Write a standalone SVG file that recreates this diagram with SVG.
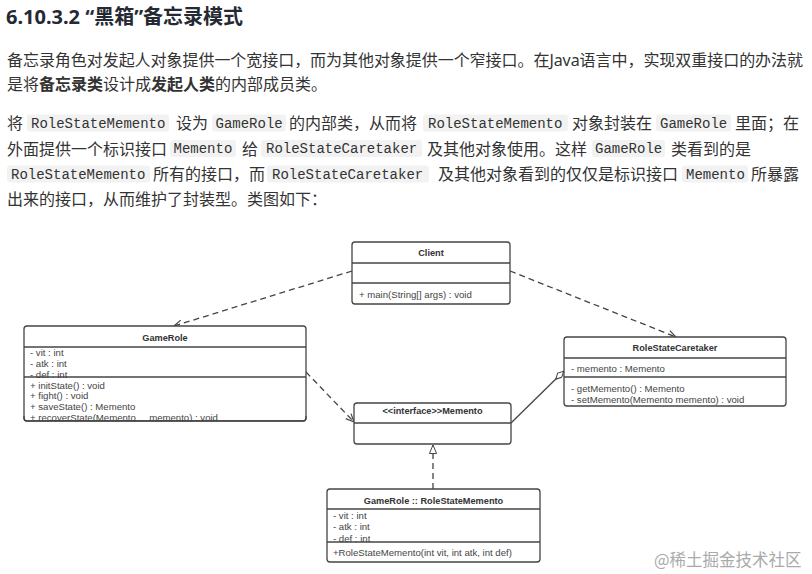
<svg xmlns="http://www.w3.org/2000/svg" width="812" height="574" viewBox="0 0 812 574">
<style>
.h{font-family:"Noto Sans","Noto Sans CJK SC",sans-serif;font-weight:bold;font-size:20px;fill:#252933}
.p{font-family:"Noto Sans","Noto Sans CJK SC",sans-serif;font-size:16px;fill:#333}
.b{font-weight:bold}
.c{font-family:"Liberation Mono","DejaVu Sans Mono",monospace;font-size:14px;fill:#333}
.cb{fill:#f2f2f2}
.box{fill:#fff;stroke:#444;stroke-width:1.3}
.div{stroke:#444;stroke-width:1.3}
.t{font-family:"Liberation Sans",Arial,sans-serif;font-size:9.2px;font-weight:bold;fill:#333;text-anchor:middle}
.m{font-family:"Liberation Sans",Arial,sans-serif;font-size:9.6px;fill:#444;white-space:pre}
.dash{fill:none;stroke:#444;stroke-width:1.3;stroke-dasharray:6 4}
.solid{fill:none;stroke:#444;stroke-width:1.3}
.wm{font-family:"Noto Sans CJK SC",sans-serif;font-size:16.5px;fill:#aaa}
</style>
<defs>
<marker id="open" viewBox="0 0 10 10" refX="10" refY="5" markerWidth="9" markerHeight="9" orient="auto" markerUnits="userSpaceOnUse"><path d="M1,1 L10,5 L1,9" fill="none" stroke="#444" stroke-width="1.3"/></marker>
<marker id="tri" viewBox="0 0 10 10" refX="10" refY="5" markerWidth="10" markerHeight="9" orient="auto" markerUnits="userSpaceOnUse"><path d="M0.5,1 L10,5 L0.5,9 Z" fill="#fff" stroke="#444" stroke-width="1.1"/></marker>
<marker id="dia" viewBox="0 0 14 8" refX="14" refY="4" markerWidth="12" markerHeight="7" orient="auto" markerUnits="userSpaceOnUse"><path d="M0.5,4 L7,0.6 L13.5,4 L7,7.4 Z" fill="#fff" stroke="#444" stroke-width="1.2"/></marker>
</defs>
<rect width="812" height="574" fill="#fff"/>

<g id="text">
<text class="h" x="6" y="24">6.10.3.2 “黑箱”备忘录模式</text>
<text class="p" x="7" y="65.5" textLength="796" lengthAdjust="spacing">备忘录角色对发起人对象提供一个宽接口，而为其他对象提供一个窄接口。在Java语言中，实现双重接口的办法就</text>
<text class="p" x="7" y="90">是将<tspan class="b">备忘录类</tspan>设计成<tspan class="b">发起人类</tspan>的内部成员类。</text>

<rect class="cb" x="27" y="114.5" width="142" height="17" rx="3"/>
<rect class="cb" x="212" y="114.5" width="74" height="17" rx="3"/>
<rect class="cb" x="423" y="114.5" width="145" height="17" rx="3"/>
<rect class="cb" x="656" y="114.5" width="75" height="17" rx="3"/>
<text class="p" x="7" y="129">将</text>
<text class="c" x="31" y="127.5">RoleStateMemento</text>
<text class="p" x="176" y="129">设为</text>
<text class="c" x="215.5" y="127.5">GameRole</text>
<text class="p" x="289" y="129">的内部类，从而将</text>
<text class="c" x="428" y="127.5">RoleStateMemento</text>
<text class="p" x="572" y="129">对象封装在</text>
<text class="c" x="660" y="127.5">GameRole</text>
<text class="p" x="735" y="129">里面；在</text>

<rect class="cb" x="170" y="140" width="66" height="17" rx="3"/>
<rect class="cb" x="261" y="140" width="161" height="17" rx="3"/>
<rect class="cb" x="592" y="140" width="73" height="17" rx="3"/>
<text class="p" x="7" y="154.5">外面提供一个标识接口</text>
<text class="c" x="173.5" y="153">Memento</text>
<text class="p" x="242" y="154.5">给</text>
<text class="c" x="266" y="153">RoleStateCaretaker</text>
<text class="p" x="427" y="154.5">及其他对象使用。这样</text>
<text class="c" x="595" y="153">GameRole</text>
<text class="p" x="671" y="154.5">类看到的是</text>

<rect class="cb" x="7" y="165.5" width="143" height="17" rx="3"/>
<rect class="cb" x="267" y="165.5" width="162" height="17" rx="3"/>
<rect class="cb" x="682" y="165.5" width="66" height="17" rx="3"/>
<text class="c" x="11" y="178.5">RoleStateMemento</text>
<text class="p" x="153" y="180">所有的接口，而</text>
<text class="c" x="272" y="178.5">RoleStateCaretaker</text>
<text class="p" x="438" y="180">及其他对象看到的仅仅是标识接口</text>
<text class="c" x="686" y="178.5">Memento</text>
<text class="p" x="751" y="180">所暴露</text>

<text class="p" x="7" y="205">出来的接口，从而维护了封装型。类图如下：</text>
</g>

<g id="connectors">
<path class="dash" d="M352,271 L174,326" marker-end="url(#open)"/>
<path class="dash" d="M510,271 L676,337" marker-end="url(#open)"/>
<path class="dash" d="M306,372 L354,422" marker-end="url(#open)"/>
<path class="dash" d="M433,489 L433,445" marker-end="url(#tri)"/>
<path class="solid" d="M511,423 L564,371" marker-end="url(#dia)"/>
</g>

<g id="Client">
<rect class="box" x="352" y="242" width="158" height="62" rx="3"/>
<line class="div" x1="352" y1="263" x2="510" y2="263"/>
<line class="div" x1="352" y1="283" x2="510" y2="283"/>
<text class="t" x="431" y="256">Client</text>
<text class="m" x="359" y="298">+ main(String[] args) : void</text>
</g>

<g id="GameRole">
<rect class="box" x="24" y="326" width="282" height="95" rx="3"/>
<text class="t" x="165" y="340.5">GameRole</text>
<text class="m" x="30" y="356">- vit : int</text>
<text class="m" x="30" y="367">- atk : int</text>
<text class="m" x="30" y="378">- def : int</text>
<text class="m" x="30" y="388.5">+ initState() : void</text>
<text class="m" x="30" y="399">+ fight() : void</text>
<text class="m" x="30" y="409.5">+ saveState() : Memento</text>
<text class="m" x="30" y="421">+ recoverState(Memento     memento) : void</text>
<rect x="25" y="421.7" width="281" height="4" fill="#fff"/>
<line class="div" x1="24" y1="347" x2="306" y2="347"/>
<line class="div" x1="24" y1="377" x2="306" y2="377"/>
<path class="solid" d="M24,416 V418 Q24,421 27,421 H303 Q306,421 306,418 V416"/>
</g>

<g id="RoleStateCaretaker">
<rect class="box" x="564" y="337" width="222" height="69" rx="3"/>
<line class="div" x1="564" y1="358" x2="786" y2="358"/>
<line class="div" x1="564" y1="377" x2="786" y2="377"/>
<text class="t" x="675" y="351">RoleStateCaretaker</text>
<text class="m" x="571" y="371.5">- memento : Memento</text>
<text class="m" x="571" y="391.5">- getMemento() : Memento</text>
<text class="m" x="571" y="402.5">- setMemento(Memento memento) : void</text>
</g>

<g id="Memento">
<rect class="box" x="354" y="403" width="157" height="41" rx="3"/>
<line class="div" x1="354" y1="423" x2="511" y2="423"/>
<text class="t" x="432.5" y="413.5">&lt;&lt;interface&gt;&gt;Memento</text>
</g>

<g id="RoleStateMemento">
<rect class="box" x="327" y="489" width="213" height="73" rx="3"/>
<text class="t" x="433.5" y="503.5">GameRole :: RoleStateMemento</text>
<text class="m" x="333" y="518.5">- vit : int</text>
<text class="m" x="333" y="530">- atk : int</text>
<text class="m" x="333" y="542">- def : int</text>
<line class="div" x1="327" y1="509" x2="540" y2="509"/>
<line class="div" x1="327" y1="542" x2="540" y2="542"/>
<text class="m" x="333" y="555.5">+RoleStateMemento(int vit, int atk, int def)</text>
</g>

<text class="wm" x="654" y="566">@稀土掘金技术社区</text>
</svg>
